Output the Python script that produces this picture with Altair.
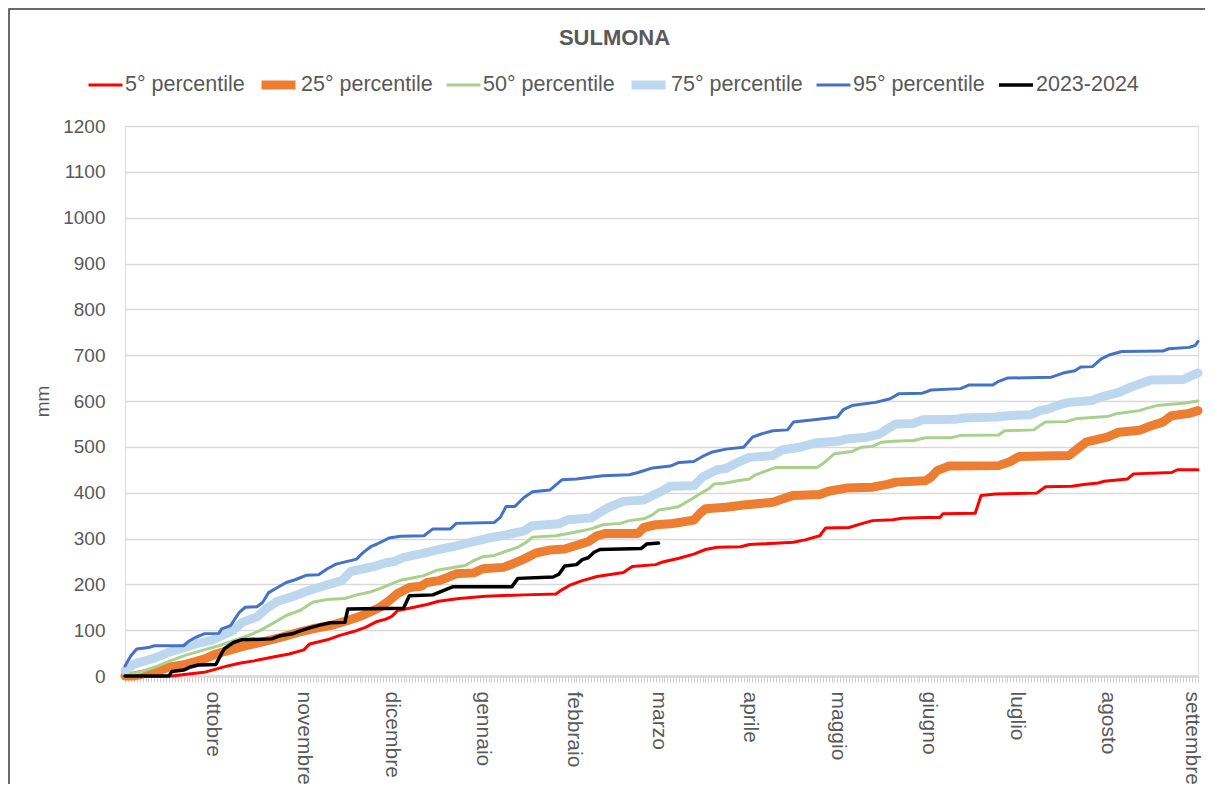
import altair as alt
import pandas as pd

FONT = "Liberation Sans"
TEXT_GRAY = "#595959"

series_names = ["5° percentile", "25° percentile", "50° percentile",
                "75° percentile", "95° percentile", "2023-2024"]
series_colors = ["#FF0000", "#ED7D31", "#A9D18E", "#BDD7EE", "#4472C4", "#000000"]
series_widths = [3, 9, 3, 9, 3, 3.5]

# x axis: day index from 1 September (0) to 1 September of next year (366)
month_labels = ["ottobre", "novembre", "dicembre", "gennaio", "febbraio", "marzo",
                "aprile", "maggio", "giugno", "luglio", "agosto", "settembre"]
month_start_days = [30, 61, 91, 122, 153, 182, 213, 243, 274, 304, 335, 366]
y_ticks = [0, 100, 200, 300, 400, 500, 600, 700, 800, 900, 1000, 1100, 1200]

# 5° percentile
p5_days = [0, 16, 21, 27, 31, 35, 39, 44, 51, 56, 61, 63, 69, 73, 78, 82, 86, 89, 91, 93,
           97, 103, 107, 114, 123, 136, 147, 149, 152, 156, 161, 170, 173, 181, 183, 189,
           194, 198, 202, 210, 213, 220, 228, 232, 237, 239, 247, 251, 255, 262, 265, 273,
           278, 279, 290, 292, 297, 311, 314, 323, 327, 332, 334, 342, 344, 357, 359, 366]
p5_mm = [0, 0, 4, 8, 15, 22, 28, 33, 42, 48, 57, 70, 79, 88, 97, 106, 119, 124, 130, 143,
         148, 156, 163, 169, 174, 177, 179, 188, 199, 208, 217, 226, 239, 243, 248, 257,
         266, 276, 281, 282, 287, 289, 292, 297, 306, 323, 324, 332, 339, 341, 344, 346,
         346, 354, 355, 394, 397, 399, 413, 414, 418, 421, 425, 430, 441, 444, 450, 450]

# 25° percentile
p25_days = [0, 3, 6, 10, 15, 21, 27, 31, 36, 40, 46, 53, 59, 64, 70, 76, 81, 87, 90, 93,
            97, 101, 103, 107, 110, 113, 119, 122, 129, 132, 136, 140, 145, 150, 153, 158,
            161, 164, 175, 177, 181, 186, 189, 194, 196, 198, 205, 211, 221, 225, 228, 237,
            240, 246, 255, 260, 263, 273, 275, 277, 281, 298, 302, 305, 322, 325, 328, 331,
            335, 339, 346, 350, 354, 357, 363, 366]
p25_mm = [0, 0, 4, 9, 19, 26, 37, 48, 57, 64, 73, 84, 95, 103, 110, 121, 132, 150, 164, 180,
          193, 196, 204, 208, 215, 223, 225, 234, 237, 244, 255, 268, 275, 277, 283, 293,
          306, 311, 311, 324, 330, 332, 335, 340, 354, 365, 368, 373, 379, 388, 394, 396,
          403, 410, 412, 418, 423, 426, 434, 448, 458, 459, 468, 479, 481, 496, 511, 515,
          521, 532, 536, 546, 554, 568, 573, 579]

# 50° percentile
p50_days = [0, 5, 10, 15, 21, 27, 32, 37, 42, 46, 51, 55, 60, 64, 69, 75, 79, 84, 87, 90,
            94, 98, 102, 106, 116, 119, 122, 126, 129, 134, 137, 139, 147, 153, 159, 163,
            169, 172, 177, 180, 182, 186, 189, 193, 196, 199, 201, 205, 209, 213, 215, 219,
            222, 236, 238, 242, 248, 251, 255, 258, 262, 269, 273, 282, 285, 298, 300, 310,
            312, 314, 321, 325, 335, 338, 346, 349, 352, 361, 366]
p50_mm = [2, 8, 19, 32, 46, 57, 66, 77, 88, 99, 117, 132, 144, 161, 167, 169, 177, 184, 191,
          199, 209, 214, 219, 230, 241, 252, 260, 263, 270, 281, 292, 303, 306, 313, 321,
          330, 333, 339, 343, 352, 362, 366, 370, 385, 397, 408, 419, 421, 426, 430, 439,
          448, 455, 455, 463, 485, 490, 499, 501, 510, 512, 514, 520, 520, 525, 526, 535,
          537, 546, 554, 555, 562, 566, 572, 579, 585, 590, 595, 600]

# 75° percentile
p75_days = [0, 3, 10, 15, 20, 24, 30, 33, 37, 40, 45, 48, 52, 57, 62, 68, 74, 77, 85, 89,
            92, 95, 102, 107, 113, 119, 124, 130, 136, 139, 148, 151, 159, 162, 165, 170,
            177, 180, 183, 186, 194, 197, 202, 205, 209, 213, 221, 224, 230, 236, 243, 246,
            253, 257, 260, 263, 269, 272, 283, 286, 297, 301, 309, 312, 315, 319, 322, 330,
            332, 336, 339, 343, 346, 350, 361, 364, 366]
p75_mm = [12, 26, 39, 52, 61, 70, 79, 88, 100, 117, 129, 146, 163, 173, 185, 197, 208, 228,
          239, 247, 250, 259, 268, 276, 284, 293, 301, 308, 316, 328, 332, 341, 345, 357,
          368, 381, 384, 394, 403, 414, 415, 434, 450, 453, 466, 477, 481, 493, 499, 509,
          512, 517, 521, 527, 539, 550, 551, 559, 560, 563, 565, 568, 570, 579, 583, 592,
          597, 601, 607, 614, 619, 630, 637, 646, 647, 656, 661]

# 95° percentile
p95_days = [0, 2, 4, 8, 10, 20, 22, 24, 27, 32, 33, 36, 39, 41, 45, 47, 49, 52, 55, 58, 62,
            66, 69, 72, 79, 81, 84, 86, 90, 94, 102, 105, 111, 113, 126, 128, 130, 133, 136,
            139, 145, 149, 154, 163, 172, 175, 180, 186, 189, 194, 197, 200, 205, 211, 214,
            217, 221, 226, 228, 235, 243, 245, 248, 256, 261, 264, 272, 275, 285, 288, 296,
            298, 301, 316, 320, 324, 326, 330, 333, 336, 340, 354, 356, 363, 365, 366]
p95_mm = [22, 44, 59, 62, 66, 66, 77, 84, 92, 93, 103, 110, 139, 150, 151, 161, 182, 193,
          204, 210, 220, 221, 234, 244, 255, 268, 283, 288, 301, 305, 306, 321, 321, 333,
          335, 346, 370, 370, 389, 402, 406, 428, 430, 437, 439, 444, 454, 458, 466, 468,
          479, 488, 495, 499, 521, 528, 535, 537, 554, 559, 565, 581, 590, 597, 605, 616,
          617, 624, 627, 635, 635, 643, 650, 652, 661, 666, 674, 675, 692, 701, 708, 709,
          714, 717, 721, 730]

# 2023-2024
cur_days = [0, 15, 16, 20, 22, 25, 31, 33, 34, 37, 40, 50, 53, 57, 60, 63, 67, 70, 75, 76,
            95, 97, 105, 110, 112, 132, 134, 146, 148, 150, 154, 156, 158, 160, 162, 176,
            178, 182]
cur_mm = [0, 0, 10, 13, 19, 24, 25, 50, 60, 73, 79, 81, 88, 92, 99, 105, 112, 116, 117, 146,
          148, 175, 177, 190, 195, 195, 213, 216, 222, 240, 243, 254, 258, 270, 276, 278,
          288, 290]

series_days = [p5_days, p25_days, p50_days, p75_days, p95_days, cur_days]
series_mm = [p5_mm, p25_mm, p50_mm, p75_mm, p95_mm, cur_mm]

rows = []
for name, ds, vs in zip(series_names, series_days, series_mm):
    for d, v in zip(ds, vs):
        rows.append({"series": name, "day": d, "mm": v})
df = pd.DataFrame(rows)

label_expr = "".join(
    f"datum.value == {d} ? '{m}' : " for d, m in zip(month_start_days, month_labels)
) + "''"

legend = alt.Legend(
    orient="none", legendX=-38, legendY=-52, direction="horizontal",
    gridAlign="none", clipHeight=22,
    symbolType="stroke", symbolSize=1156, labelFont=FONT, labelFontSize=21.5,
    labelColor=TEXT_GRAY, columnPadding=12, labelOffset=1, padding=0,
    title=None, labelLimit=0,
)

x_enc = alt.X(
    "day:Q",
    scale=alt.Scale(domain=[0, 366], nice=False, zero=False),
    axis=alt.Axis(
        values=list(range(0, 367)), labelExpr=label_expr, labelAngle=90,
        labelOverlap=False, labelBound=False, labelFlush=False, grid=False,
        tickSize=6, tickColor="#cfcfcf", tickWidth=1,
        domainColor="#d9d9d9", domainWidth=2.5,
        labelFont=FONT, labelFontSize=21, labelColor=TEXT_GRAY, labelPadding=9,
        labelOffset={"condition": {"test": "datum.value == 366", "value": -7}, "value": 0},
        title=None,
    ),
)
y_enc = alt.Y(
    "mm:Q",
    scale=alt.Scale(domain=[0, 1200], nice=False),
    axis=alt.Axis(
        values=y_ticks, format="d", grid=True, gridColor="#d9d9d9", gridWidth=1.5,
        ticks=False, domain=False, labelFont=FONT, labelFontSize=19,
        labelColor=TEXT_GRAY, labelPadding=20, title="mm", titleFont=FONT,
        titleFontSize=19, titleFontWeight="normal", titleColor=TEXT_GRAY,
        titlePadding=10,
    ),
)
color_enc = alt.Color("series:N", scale=alt.Scale(domain=series_names, range=series_colors),
                      legend=legend, title=None)
width_enc = alt.StrokeWidth("series:N",
                            scale=alt.Scale(type="ordinal", domain=series_names, range=series_widths),
                            legend=legend, title=None)

frame = alt.Chart(pd.DataFrame({"f": [0]})).mark_rect(
    filled=False, stroke="#3a3a3a", strokeWidth=1.5
).encode(x=alt.value(-116), x2=alt.value(1095), y=alt.value(-117), y2=alt.value(690))

layers = [frame]
for name in series_names:
    layers.append(
        alt.Chart(df).transform_filter(alt.datum.series == name)
        .mark_line(strokeCap="round", strokeJoin="round")
        .encode(x=x_enc, y=y_enc, color=color_enc, strokeWidth=width_enc)
    )

chart = alt.layer(*layers).properties(
    width=1073, height=550,
    padding={"left": 117, "top": 118, "right": 7, "bottom": 108},
    autosize=alt.AutoSizeParams(type="none"),
    title=alt.Title("SULMONA", font=FONT, fontSize=22, fontWeight="bold", color=TEXT_GRAY,
                    anchor="middle", frame="bounds", offset=0, dy=42),
).configure_view(stroke="#262626", strokeWidth=1.5).configure(background="white")

chart.save("out.html", embed_options={"renderer": "svg", "actions": False})
